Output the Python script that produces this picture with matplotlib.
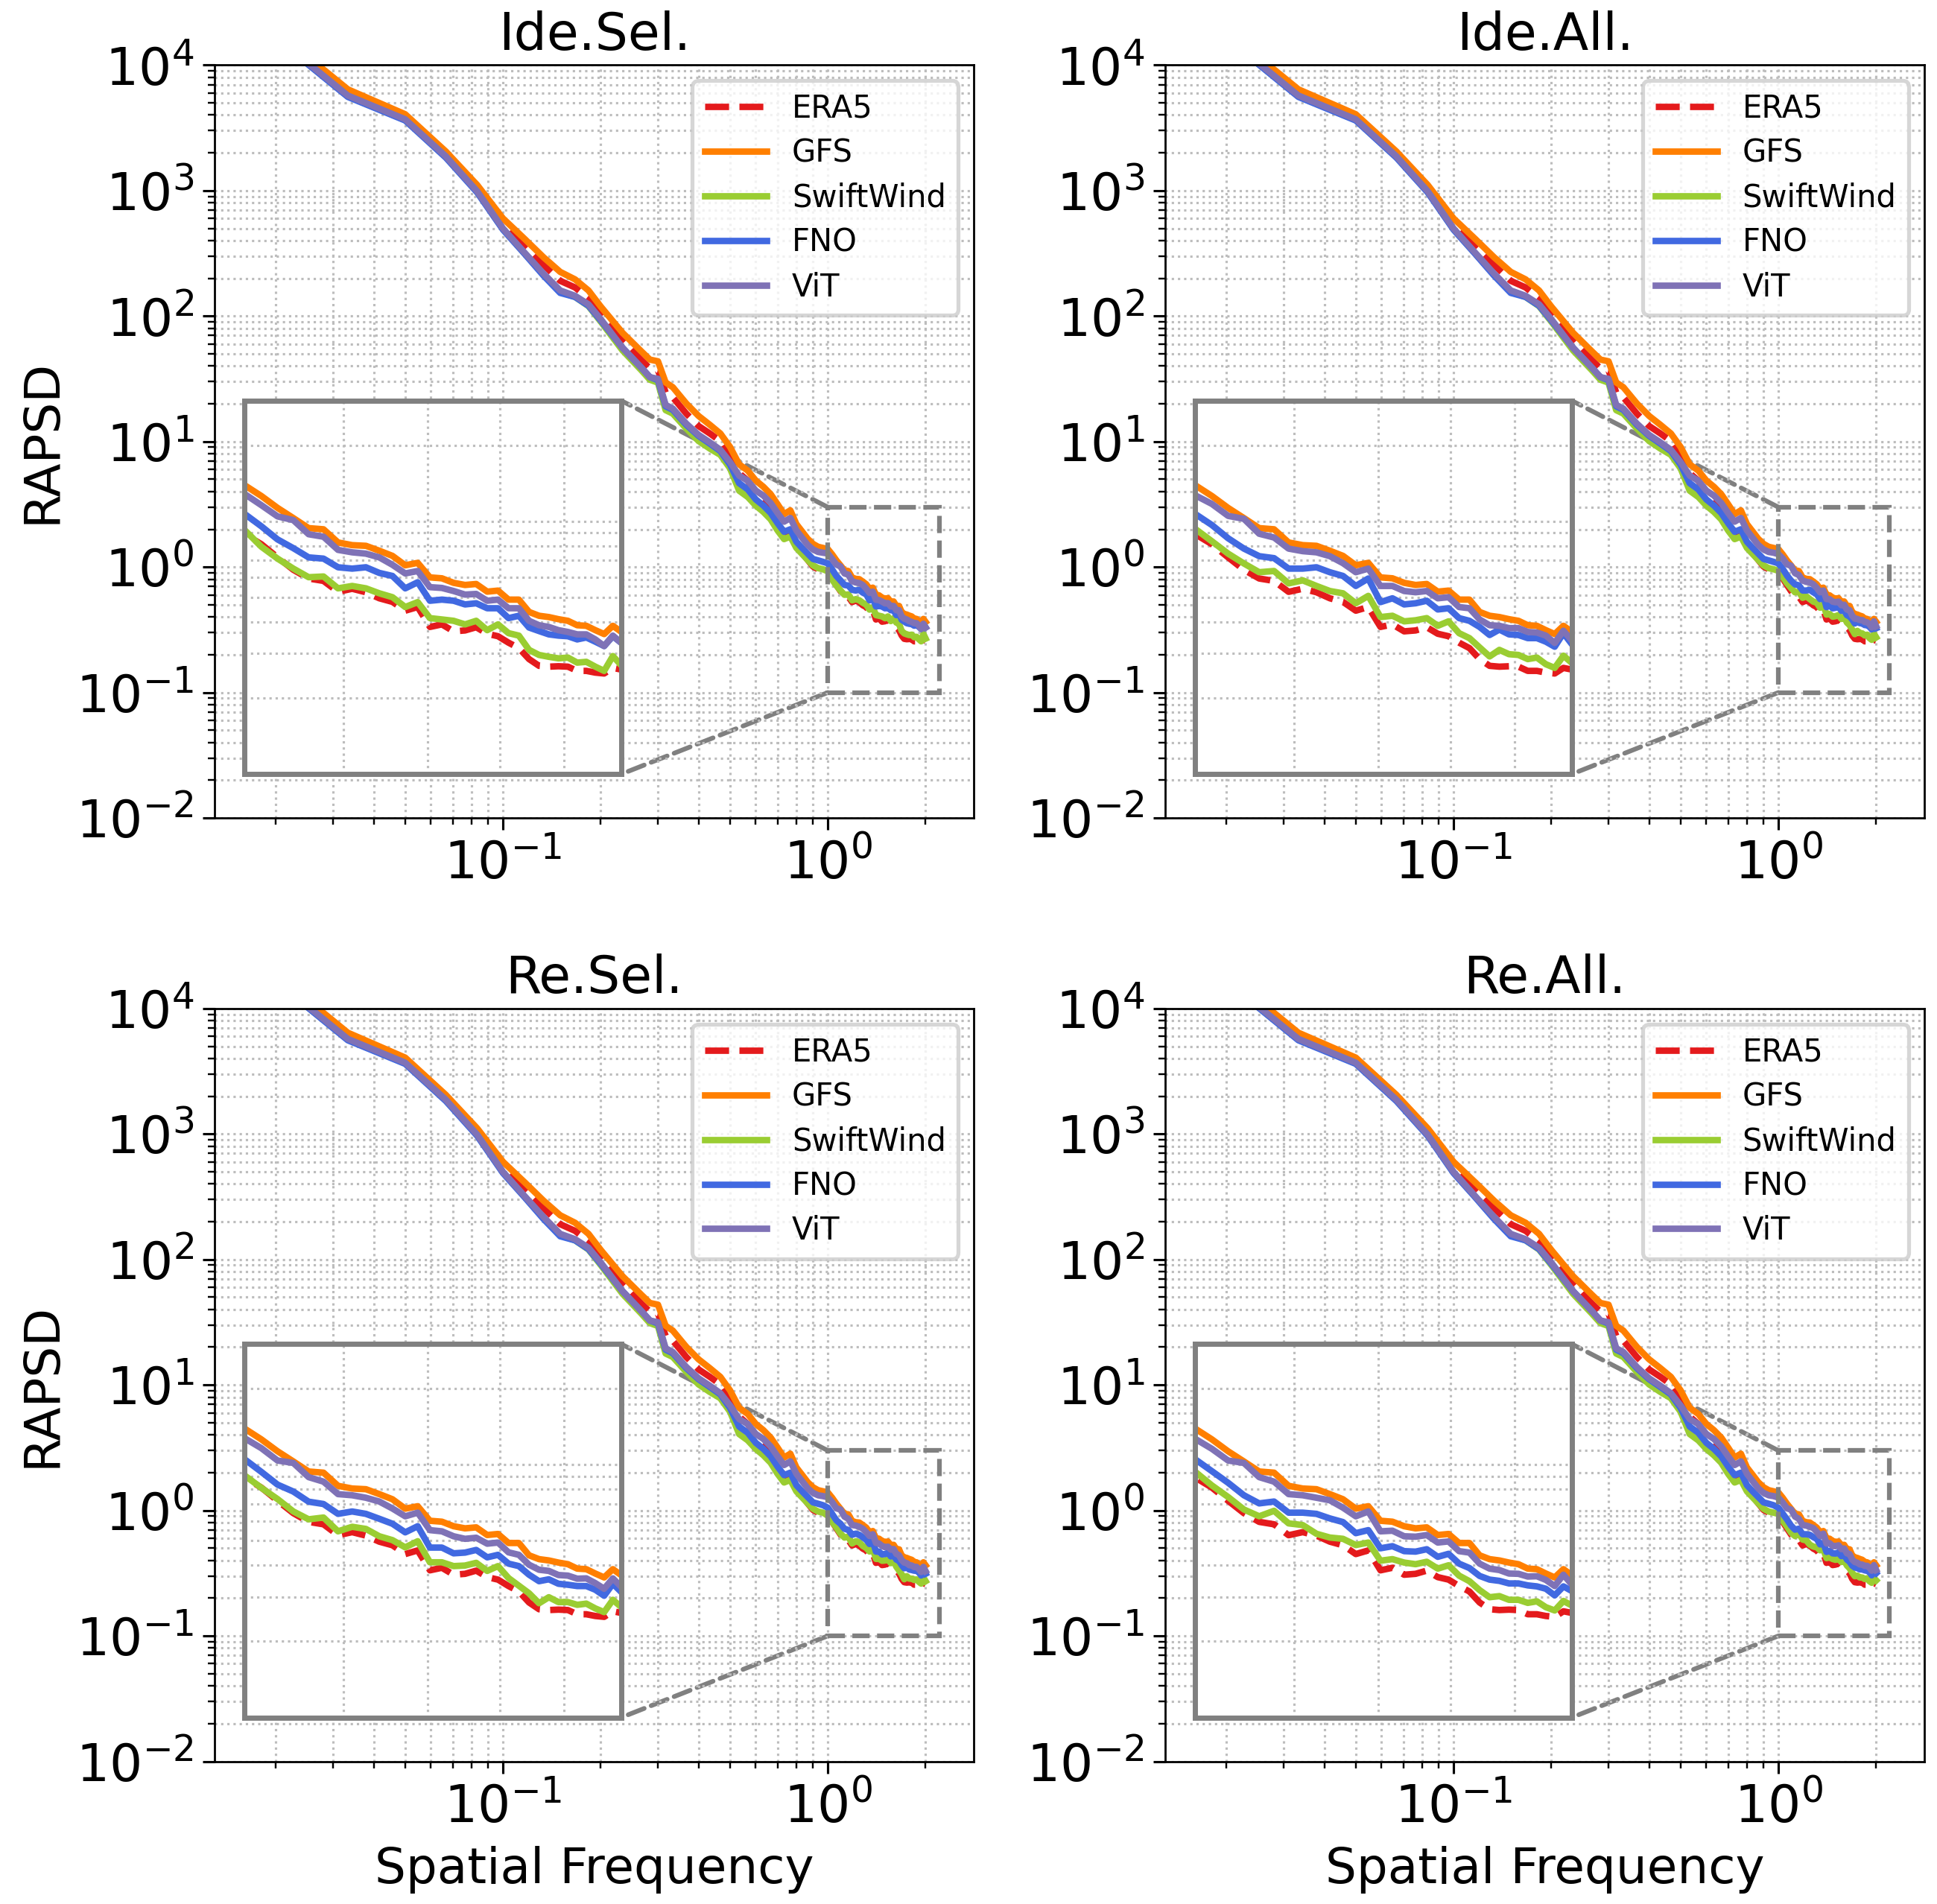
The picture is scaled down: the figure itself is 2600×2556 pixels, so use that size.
import matplotlib
matplotlib.use("Agg")
import matplotlib.pyplot as plt
from matplotlib.patches import Rectangle, ConnectionPatch

# spatial frequencies below 1 (coarse) and the zoomed band 1..2
freq_low = [0.0167, 0.0333, 0.05, 0.0667, 0.0833, 0.1, 0.1167, 0.1333, 0.15, 0.1667,
            0.1833, 0.2, 0.2333, 0.2667, 0.2833, 0.3, 0.3167, 0.3333, 0.3667, 0.4,
            0.4333, 0.4667, 0.5, 0.5333, 0.5667, 0.6, 0.6333, 0.6667, 0.7, 0.7333,
            0.7667, 0.8, 0.8333, 0.8667, 0.9, 0.9333, 0.9667]
freq_high = [1.0, 1.0312, 1.0625, 1.0938, 1.125, 1.1562, 1.1875, 1.2188, 1.25, 1.2812,
             1.3125, 1.3438, 1.375, 1.4062, 1.4375, 1.4688, 1.5, 1.5312, 1.5625, 1.5938,
             1.625, 1.6562, 1.6875, 1.7188, 1.75, 1.7812, 1.8125, 1.8438, 1.875, 1.9062,
             1.9375, 1.9688, 2.0]

# RAPSD below f=1 (curves look the same in all four panels)
gfs_low = [27500, 6410, 4060, 2050, 1108, 600, 411, 294, 225, 196, 160, 119, 73.6, 52.3,
           45.0, 43.6, 29.6, 27.1, 20.1, 16.0, 13.6, 11.6, 9.05, 6.58, 5.87, 4.89, 4.36,
           3.81, 3.17, 2.64, 2.83, 2.20, 1.92, 1.68, 1.53, 1.45, 1.42]
era5_low = [25700, 6120, 3880, 1960, 1034, 547, 366, 256, 191, 169, 139, 104, 64.1, 44.5,
            38.3, 37.1, 24.6, 22.5, 16.7, 13.3, 11.6, 10.1, 7.88, 5.60, 4.88, 3.98, 3.38,
            2.89, 2.35, 1.87, 1.91, 1.49, 1.30, 1.14, 1.01, 0.96, 0.94]
vit_low = [24500, 5720, 3700, 1875, 987, 499, 319, 218, 160, 145, 124, 94.5, 55.9, 38.8,
           32.6, 31.6, 19.6, 18.3, 13.9, 11.3, 9.85, 8.60, 6.87, 5.35, 4.88, 4.07, 3.71,
           3.24, 2.70, 2.30, 2.46, 1.96, 1.71, 1.50, 1.38, 1.32, 1.30]
fno_low = [24000, 5580, 3620, 1830, 965, 488, 312, 210, 153, 142, 121, 92.3, 55.9, 38.8,
           32.6, 30.9, 19.1, 17.9, 13.6, 11.1, 9.63, 8.40, 6.55, 4.66, 4.16, 3.46, 3.09,
           2.70, 2.24, 1.91, 2.00, 1.59, 1.42, 1.28, 1.16, 1.13, 1.10]
swift_low = [23900, 5650, 3660, 1850, 976, 493, 315, 213, 156, 142, 120, 90.3, 53.3, 37.0,
             31.1, 29.5, 17.8, 16.7, 12.7, 10.1, 8.79, 7.84, 6.12, 4.06, 3.62, 3.09, 2.75,
             2.40, 1.96, 1.67, 1.75, 1.42, 1.27, 1.14, 1.03, 0.98, 0.96]

# RAPSD in the zoomed band
gfs_high = [1.39, 1.26, 1.13, 1.03, 0.94, 0.93, 0.825, 0.805, 0.80, 0.765, 0.73, 0.67, 0.685,
            0.60, 0.595, 0.571, 0.56, 0.565, 0.527, 0.532, 0.49, 0.49, 0.438, 0.423, 0.418,
            0.41, 0.404, 0.388, 0.386, 0.371, 0.358, 0.386, 0.365]
era5_high = [0.89, 0.812, 0.72, 0.643, 0.594, 0.581, 0.526, 0.541, 0.524, 0.496, 0.48, 0.443,
             0.458, 0.382, 0.391, 0.367, 0.37, 0.381, 0.359, 0.351, 0.331, 0.315, 0.285,
             0.268, 0.266, 0.267, 0.266, 0.256, 0.256, 0.252, 0.25, 0.263, 0.259]

vit_ide_sel = [1.283, 1.159, 1.046, 1.011, 0.889, 0.869, 0.771, 0.754, 0.745, 0.72, 0.673,
               0.622, 0.636, 0.549, 0.545, 0.53, 0.513, 0.516, 0.485, 0.49, 0.453, 0.453,
               0.404, 0.388, 0.382, 0.371, 0.365, 0.357, 0.357, 0.341, 0.321, 0.353, 0.33]
fno_ide_sel = [1.07, 0.956, 0.848, 0.783, 0.72, 0.712, 0.658, 0.65, 0.658, 0.625, 0.608,
               0.543, 0.574, 0.485, 0.49, 0.485, 0.469, 0.474, 0.453, 0.453, 0.414, 0.423,
               0.38, 0.368, 0.357, 0.353, 0.351, 0.341, 0.347, 0.334, 0.321, 0.351, 0.33]
swift_ide_sel = [0.924, 0.794, 0.712, 0.65, 0.601, 0.605, 0.543, 0.555, 0.543, 0.519, 0.501,
                 0.458, 0.479, 0.414, 0.409, 0.404, 0.391, 0.404, 0.371, 0.391, 0.361, 0.353,
                 0.31, 0.296, 0.291, 0.287, 0.289, 0.276, 0.278, 0.266, 0.256, 0.293, 0.269]

vit_ide_all = [1.268, 1.172, 1.051, 1.023, 0.893, 0.863, 0.78, 0.762, 0.754, 0.728, 0.683,
               0.629, 0.65, 0.555, 0.555, 0.53, 0.524, 0.53, 0.496, 0.501, 0.458, 0.453,
               0.409, 0.388, 0.386, 0.378, 0.378, 0.365, 0.363, 0.353, 0.33, 0.369, 0.337]
fno_ide_all = [1.07, 0.967, 0.857, 0.78, 0.728, 0.715, 0.65, 0.65, 0.658, 0.629, 0.608,
               0.555, 0.594, 0.479, 0.496, 0.469, 0.474, 0.485, 0.448, 0.453, 0.414, 0.404,
               0.382, 0.355, 0.373, 0.357, 0.355, 0.345, 0.345, 0.334, 0.319, 0.361, 0.326]
swift_ide_all = [0.934, 0.834, 0.745, 0.681, 0.629, 0.636, 0.568, 0.584, 0.555, 0.53, 0.519,
                 0.474, 0.507, 0.418, 0.423, 0.402, 0.406, 0.414, 0.386, 0.402, 0.361, 0.345,
                 0.317, 0.292, 0.31, 0.298, 0.296, 0.285, 0.289, 0.272, 0.263, 0.294, 0.275]

vit_re_sel = [1.273, 1.163, 1.039, 1.016, 0.893, 0.857, 0.765, 0.757, 0.74, 0.715, 0.671,
              0.625, 0.646, 0.551, 0.545, 0.521, 0.509, 0.514, 0.487, 0.492, 0.45, 0.44,
              0.402, 0.384, 0.38, 0.366, 0.364, 0.354, 0.355, 0.34, 0.323, 0.355, 0.328]
fno_re_sel = [1.051, 0.937, 0.834, 0.783, 0.714, 0.699, 0.639, 0.653, 0.639, 0.611, 0.584,
              0.54, 0.571, 0.47, 0.47, 0.446, 0.449, 0.46, 0.43, 0.44, 0.406, 0.397,
              0.367, 0.346, 0.352, 0.338, 0.335, 0.331, 0.331, 0.32, 0.303, 0.338, 0.313]
swift_re_sel = [0.907, 0.81, 0.731, 0.653, 0.608, 0.618, 0.545, 0.568, 0.557, 0.521, 0.503,
                0.471, 0.498, 0.411, 0.411, 0.397, 0.399, 0.409, 0.38, 0.397, 0.356, 0.332,
                0.31, 0.283, 0.299, 0.286, 0.286, 0.279, 0.282, 0.27, 0.261, 0.292, 0.273]

vit_re_all = [1.266, 1.156, 1.039, 1.016, 0.893, 0.857, 0.765, 0.757, 0.74, 0.723, 0.676,
              0.625, 0.653, 0.545, 0.548, 0.521, 0.519, 0.527, 0.492, 0.497, 0.455, 0.449,
              0.406, 0.388, 0.383, 0.371, 0.37, 0.361, 0.362, 0.35, 0.331, 0.367, 0.335]
fno_re_all = [1.051, 0.943, 0.848, 0.757, 0.703, 0.715, 0.646, 0.646, 0.639, 0.613, 0.593,
              0.536, 0.551, 0.467, 0.476, 0.455, 0.453, 0.463, 0.432, 0.444, 0.406, 0.39,
              0.363, 0.351, 0.347, 0.339, 0.339, 0.333, 0.33, 0.323, 0.304, 0.33, 0.316]
swift_re_all = [0.938, 0.828, 0.745, 0.665, 0.625, 0.657, 0.586, 0.577, 0.533, 0.515, 0.509,
                0.481, 0.492, 0.417, 0.423, 0.41, 0.404, 0.413, 0.388, 0.4, 0.364, 0.346,
                0.319, 0.299, 0.302, 0.292, 0.292, 0.284, 0.288, 0.273, 0.265, 0.289, 0.277]

titles = ["Ide.Sel.", "Ide.All.", "Re.Sel.", "Re.All."]
swift_panels = [swift_ide_sel, swift_ide_all, swift_re_sel, swift_re_all]
fno_panels = [fno_ide_sel, fno_ide_all, fno_re_sel, fno_re_all]
vit_panels = [vit_ide_sel, vit_ide_all, vit_re_sel, vit_re_all]

C_ERA5 = "#e41a1c"
C_GFS = "#ff7f00"
C_SWIFT = "#9acd32"
C_FNO = "#4169e1"
C_VIT = "#7f72b6"
LW = 2.5

fig, axes = plt.subplots(2, 2, figsize=(10.4, 10.224), dpi=250)
fig.subplots_adjust(left=0.1108, right=0.9935, top=0.9658, bottom=0.0749,
                    wspace=0.252, hspace=0.253)

freq = freq_low + freq_high

for i, ax in enumerate(axes.flat):
    series = [
        ("ERA5", era5_low + era5_high, C_ERA5, "--"),
        ("GFS", gfs_low + gfs_high, C_GFS, "-"),
        ("SwiftWind", swift_low + swift_panels[i], C_SWIFT, "-"),
        ("FNO", fno_low + fno_panels[i], C_FNO, "-"),
        ("ViT", vit_low + vit_panels[i], C_VIT, "-"),
    ]
    for name, vals, col, ls in series:
        ax.plot(freq, vals, color=col, ls=ls, lw=LW, label=name)

    ax.set_xscale("log")
    ax.set_yscale("log")
    ax.set_xlim(0.01295, 2.815)
    ax.set_ylim(1e-2, 1e4)
    ax.grid(True, which="both", ls=":", lw=0.9, color="0.74")
    ax.tick_params(which="major", labelsize=20, length=4.5, width=0.9)
    ax.tick_params(which="minor", length=2.5, width=0.7)
    ax.set_title(titles[i], fontsize=20)
    if i % 2 == 0:
        ax.set_ylabel("RAPSD", fontsize=19)
    if i >= 2:
        ax.set_xlabel("Spatial Frequency", fontsize=19, labelpad=5)

    leg = ax.legend(loc="upper right", fontsize=12, labelspacing=0.43)
    leg.get_frame().set_linewidth(1.5)

    # zoomed inset of the high-frequency tail
    axins = ax.inset_axes([0.0395, 0.0584, 0.4963, 0.4958])
    for name, vals, col, ls in series:
        axins.plot(freq, vals, color=col, ls=ls, lw=LW)
    axins.set_xscale("log")
    axins.set_yscale("log")
    axins.set_xlim(1.0, 2.0)
    axins.set_ylim(0.1, 3.0)
    axins.grid(True, which="both", ls=":", lw=0.9, color="0.74")
    axins.tick_params(which="both", length=0, labelleft=False, labelbottom=False)
    for sp in axins.spines.values():
        sp.set_edgecolor("0.5")
        sp.set_linewidth(2.0)

    ax.add_patch(Rectangle((1.0, 0.1), 1.2, 2.9, fill=False, ec="0.5", ls="--", lw=1.8,
                           zorder=4))
    for yA, yB in [(3.0, 1.0), (0.1, 0.0)]:
        con = ConnectionPatch(xyA=(1.0, yA), coordsA=ax.transData,
                              xyB=(1.0, yB), coordsB=axins.transAxes,
                              color="0.5", ls="--", lw=1.8)
        ax.add_artist(con)

fig.savefig("out.png", dpi=250)
